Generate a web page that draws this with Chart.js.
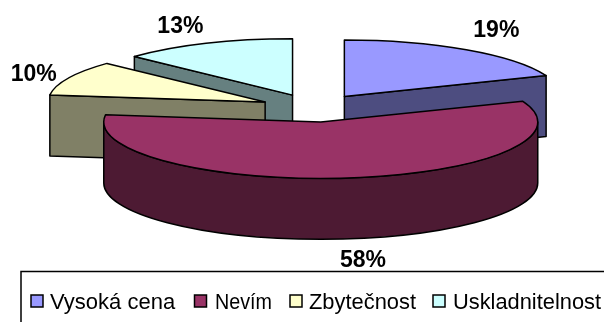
<!DOCTYPE html>
<html>
<head>
<meta charset="utf-8">
<style>
  html, body { margin: 0; padding: 0; background: #fff; }
  canvas { display: block; }
</style>
<script src="https://cdn.jsdelivr.net/npm/chart.js@4/dist/chart.umd.js"></script>
</head>
<body>
<canvas id="ChartOfReasons" width="604" height="322"></canvas>
<script>
var categories = ['Vysoká cena', 'Nevím', 'Zbytečnost', 'Uskladnitelnost'];
var shares = [19, 58, 10, 13];
var topColors = ['#9999ff', '#993366', '#ffffcc', '#ccffff'];
var wallColors = ['#4d4d80', '#4d1a33', '#808066', '#668080'];
// posun popisku od okraje výseče
var labelShiftX = [30, 15, -35, -26];
var labelShiftY = [-19, 22, -3, -17];
// rozložení legendy
var legendSwatchX = [31, 194.5, 290, 433];
var legendTextX = [50, 215, 309, 453];
var legendTextWidth = [128, 57, 107, 148];

var TILT = 0.26;
var DEPTH = 61;
var RADIUS = 217;
var EXPLODE = 54;
var FONT = '"Liberation Sans", Arial, sans-serif';

// Koláč s hloubkou: výseče bere z arc elementů, kreslí je zploštělé a odzadu dopředu.
class Pie3dController extends Chart.PieController {
  draw() {
    var ctx = this.chart.ctx;
    var wedges = this.getMeta().data.map(function(arc, index) {
      var mid = (arc.startAngle + arc.endAngle) / 2;
      var push = arc.options.offset / 4;
      return {
        index: index,
        start: arc.startAngle,
        end: arc.endAngle,
        mid: mid,
        rx: arc.outerRadius,
        ry: arc.outerRadius * TILT,
        x: arc.x + Math.cos(mid) * push,
        y: arc.y + Math.sin(mid) * push * TILT
      };
    });
    wedges.sort(function(a, b) { return a.y - b.y; });

    ctx.save();
    ctx.lineWidth = 1.5;
    ctx.lineJoin = 'round';
    ctx.strokeStyle = '#000';
    wedges.forEach(function(w) {
      drawWalls(ctx, w);
      ctx.beginPath();
      ctx.moveTo(w.x, w.y);
      ctx.ellipse(w.x, w.y, w.rx, w.ry, 0, w.start, w.end);
      ctx.closePath();
      ctx.fillStyle = topColors[w.index];
      ctx.fill();
      ctx.stroke();
    });
    ctx.restore();

    ctx.save();
    ctx.fillStyle = '#000';
    ctx.font = 'bold 23px ' + FONT;
    ctx.textAlign = 'center';
    ctx.textBaseline = 'middle';
    wedges.forEach(function(w) {
      var px = w.x + Math.cos(w.mid) * w.rx;
      var py = w.y + Math.sin(w.mid) * w.ry;
      if (Math.sin(w.mid) > 0) py += DEPTH;
      ctx.fillText(shares[w.index] + '%', px + labelShiftX[w.index], py + labelShiftY[w.index]);
    });
    ctx.restore();
  }
}
Pie3dController.id = 'pie3d';
Chart.register(Pie3dController);

function drawWalls(ctx, w) {
  ctx.fillStyle = wallColors[w.index];
  // rovné stěny, jen ty otočené k divákovi
  [[w.start, -Math.cos(w.start)], [w.end, Math.cos(w.end)]].forEach(function(edge) {
    if (edge[1] <= 0.001) return;
    var rimX = w.x + Math.cos(edge[0]) * w.rx;
    var rimY = w.y + Math.sin(edge[0]) * w.ry;
    ctx.beginPath();
    ctx.moveTo(w.x, w.y);
    ctx.lineTo(rimX, rimY);
    ctx.lineTo(rimX, rimY + DEPTH);
    ctx.lineTo(w.x, w.y + DEPTH);
    ctx.closePath();
    ctx.fill();
    ctx.stroke();
  });
  // oblá stěna vpředu
  var from = Math.max(w.start, 0);
  var to = Math.min(w.end, Math.PI);
  if (to > from) {
    ctx.beginPath();
    ctx.ellipse(w.x, w.y, w.rx, w.ry, 0, from, to);
    ctx.ellipse(w.x, w.y + DEPTH, w.rx, w.ry, 0, to, from, true);
    ctx.closePath();
    ctx.fill();
    ctx.stroke();
  }
}

// Legenda v rámečku, který přesahuje pravý a dolní okraj.
var legendBox = {
  id: 'legendBox',
  afterDraw: function(chart) {
    var ctx = chart.ctx;
    ctx.save();
    ctx.strokeStyle = '#000';
    ctx.lineWidth = 1.5;
    ctx.strokeRect(21, 271.5, chart.width + 20, chart.height);
    ctx.font = '22px ' + FONT;
    ctx.textBaseline = 'alphabetic';
    categories.forEach(function(name, index) {
      ctx.fillStyle = topColors[index];
      ctx.fillRect(legendSwatchX[index], 295, 12, 12);
      ctx.strokeRect(legendSwatchX[index], 295, 12, 12);
      ctx.fillStyle = '#000';
      ctx.fillText(name, legendTextX[index], 309, legendTextWidth[index]);
    });
    ctx.restore();
  }
};

var chartOfReasons = new Chart(document.getElementById('ChartOfReasons'), {
  type: 'pie3d',
  data: {
    labels: categories,
    datasets: [{
      data: shares,
      backgroundColor: topColors,
      offset: EXPLODE * 4
    }]
  },
  options: {
    responsive: false,
    animation: false,
    // procenta: číselná nula by při velkém offsetu dala NaN
    cutout: '0%',
    radius: RADIUS,
    layout: { padding: { left: 24, bottom: 106 } },
    plugins: { legend: { display: false }, tooltip: { enabled: false } }
  },
  plugins: [legendBox]
});
</script>
</body>
</html>
